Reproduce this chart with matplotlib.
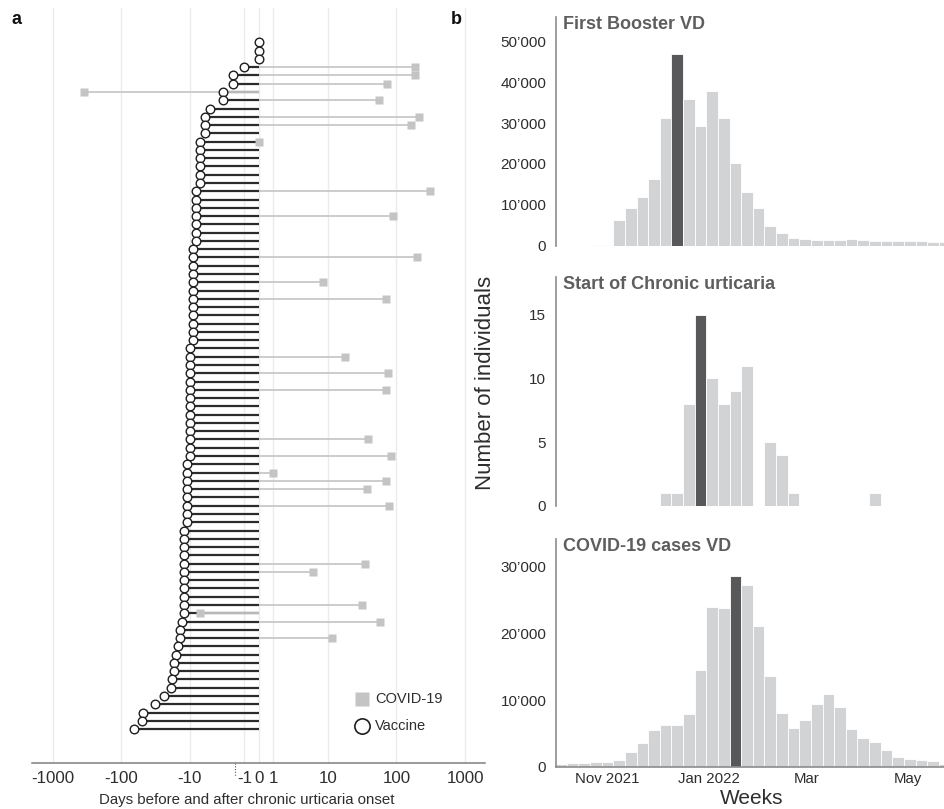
import matplotlib
matplotlib.use("Agg")
import matplotlib.pyplot as plt
import matplotlib.dates as mdates
import numpy as np
import pandas as pd

# ---- panel a: days from vaccine / COVID-19 to chronic urticaria onset ----
vaccine_days = [
    0, 0, 0, -1, -2, -2, -3, -3, -5, -6, -6, -6,
    -7, -7, -7, -7, -7, -7,
    -8, -8, -8, -8, -8, -8, -8,
    -9, -9, -9, -9, -9, -9, -9, -9, -9, -9, -9, -9,
    -10, -10, -10, -10, -10, -10, -10, -10, -10, -10, -10, -10, -10, -10,
    -11, -11, -11, -11, -11, -11, -11, -11,
    -12, -12, -12, -12, -12, -12, -12, -12, -12, -12, -12,
    -13, -14, -14, -15, -16, -17, -17, -18, -19, -24, -32, -49, -50, -65,
]
covid_rows = [4, 5, 6, 7, 8, 10, 11, 13, 19, 22, 27, 30, 32, 39, 41, 43,
              49, 51, 53, 54, 55, 57, 64, 65, 69, 70, 71, 73]
covid_days = [190, 190, 74, -350, 56, 216, 165, 0, 310, 88, 200, 8.5, 70, 18, 76, 70,
              39, 83, 1, 70, 37, 77, 35, 6, 32, -7, 57, 11.5]
x_ticks = [-1000, -100, -10, -1, 0, 1, 10, 100, 1000]
x_tick_labels = ["-1000", "-100", "-10", "-1", "0", "1", "10", "100", "1000"]

# ---- panel b: weekly counts ----
week_start = pd.date_range("2021-10-04", periods=34, freq="7D")
booster = [0, 0, 0, 100, 100, 6300, 9300, 11900, 16250, 31200, 47000, 35950,
           29330, 37750, 31300, 20260, 13240, 9150, 4820, 3190, 1880, 1550,
           1300, 1300, 1390, 1720, 1470, 1230, 1230, 1140, 1230, 1140, 980, 820]
cu_onset = [0, 0, 0, 0, 0, 0, 0, 0, 0, 1, 1, 8, 15, 10, 8, 9, 11, 0, 5, 4, 1,
            0, 0, 0, 0, 0, 0, 1, 0, 0, 0, 0, 0, 0]
covid_cases = [400, 550, 600, 650, 750, 950, 2150, 3600, 5450, 6300, 6300, 7900,
               14550, 24000, 23750, 28600, 27200, 21050, 13650, 8050, 5750, 6950,
               9450, 10950, 8900, 5650, 4300, 3700, 2500, 1500, 1200, 1050, 900, 450]
month_ticks = ["2021-11-01", "2022-01-01", "2022-03-01", "2022-05-01"]
month_labels = ["Nov 2021", "Jan 2022", "Mar", "May"]

W, H = 945, 809
plt.rcParams["font.family"] = ["Liberation Sans", "DejaVu Sans"]
plt.rcParams["axes.unicode_minus"] = False

LIGHT = "#d2d3d5"
DARK = "#58585a"
TXT = "#2e2e2e"


def box(left, top, right, bottom):
    return [left / W, 1 - bottom / H, (right - left) / W, (bottom - top) / H]


def fwd(x):
    return np.arcsinh(np.asarray(x, dtype=float) / 2) / np.log(10)


def inv(y):
    return 2 * np.sinh(np.asarray(y, dtype=float) * np.log(10))


fig = plt.figure(figsize=(W / 100, H / 100), dpi=100)

# ---------------- panel a ----------------
ax = fig.add_axes(box(32, 8, 485, 763))
ax.set_xscale("function", functions=(fwd, inv))
rows = np.arange(1, len(vaccine_days) + 1)
ax.hlines(rows, vaccine_days, 0, color="#2b2b2b", lw=1.6, zorder=2)
ax.hlines(covid_rows, covid_days, 0, color="#c8c8c8", lw=1.3, zorder=3)
ax.plot(covid_days, covid_rows, "s", color="#c4c4c4", ms=6, mec="none", zorder=4)
ax.plot(vaccine_days, rows, "o", mfc="white", mec="#1e1e1e", mew=1.0, ms=6.2, zorder=5)

ax.set_xlim(-1995, 1950)
ax.set_ylim(88.1, -3.15)
ax.set_xticks(x_ticks)
ax.set_xticklabels(x_tick_labels)
ax.set_yticks([])
ax.grid(axis="x", color="#ebebeb", lw=1)
ax.set_axisbelow(True)
for s in ["top", "right", "left"]:
    ax.spines[s].set_visible(False)
ax.spines["bottom"].set_color("#7f7f7f")
ax.spines["bottom"].set_linewidth(1.1)
ax.tick_params(axis="x", length=0, pad=6, labelsize=12.2, labelcolor=TXT)
ax.plot([-1.8, -1.8], [0, -0.017], transform=ax.get_xaxis_transform(),
        ls=(0, (1, 1.5)), color="#555555", lw=0.8, clip_on=False)

# legend
ax.plot([0.728], [0.0844], "s", transform=ax.transAxes, color="#c4c4c4",
        ms=10, mec="none", clip_on=False)
ax.text(0.757, 0.0844, "COVID-19", transform=ax.transAxes, va="center",
        fontsize=10.5, color=TXT)
ax.plot([0.728], [0.049], "o", transform=ax.transAxes, mfc="white", mec="#1e1e1e",
        mew=1.2, ms=11, clip_on=False)
ax.text(0.757, 0.049, "Vaccine", transform=ax.transAxes, va="center",
        fontsize=10.5, color=TXT)

fig.text(247 / W, 1 - 800 / H, "Days before and after chronic urticaria onset",
         ha="center", va="center", fontsize=10.8, color=TXT)

# ---------------- panel b ----------------
x = mdates.date2num(week_start)
nov1 = mdates.date2num(pd.Timestamp("2021-11-01"))


def hist_panel(rect, values, highlight, ymax, yticks, ylabels, title, show_x):
    a = fig.add_axes(rect)
    colors = [DARK if i == highlight else LIGHT for i in range(len(values))]
    a.bar(x, values, width=7, color=colors, edgecolor="white", linewidth=0.6,
          align="center")
    a.set_xlim(nov1 - 31.0, nov1 + 203.2)
    a.set_ylim(0, ymax)
    a.set_yticks(yticks)
    a.set_yticklabels(ylabels)
    for s in ["top", "right"]:
        a.spines[s].set_visible(False)
    a.spines["left"].set_color("#8c8c8c")
    a.spines["left"].set_linewidth(1.2)
    a.tick_params(axis="y", length=0, pad=7, labelsize=11, labelcolor=TXT)
    if show_x:
        a.spines["bottom"].set_color("#8c8c8c")
        a.spines["bottom"].set_linewidth(1.2)
        a.set_xticks(mdates.date2num(pd.to_datetime(month_ticks)))
        a.set_xticklabels(month_labels)
        a.tick_params(axis="x", length=0, pad=4, labelsize=10.8, labelcolor=TXT)
    else:
        a.spines["bottom"].set_visible(False)
        a.set_xticks([])
    a.text(0.017, 0.968, title, transform=a.transAxes, va="center", ha="left",
           fontsize=13, fontweight="bold", color="#5e5e5e")
    return a


hist_panel(box(556, 16.7, 945, 245.7), booster, 10, 56000,
           [0, 10000, 20000, 30000, 40000, 50000],
           ["0", "10\u2019000", "20\u2019000", "30\u2019000", "40\u2019000", "50\u2019000"],
           "First Booster VD", False)
hist_panel(box(556, 276.7, 945, 505.7), cu_onset, 12, 18,
           [0, 5, 10, 15], ["0", "5", "10", "15"],
           "Start of Chronic urticaria", False)
hist_panel(box(556, 539.3, 945, 766.7), covid_cases, 15, 34100,
           [0, 10000, 20000, 30000],
           ["0", "10\u2019000", "20\u2019000", "30\u2019000"],
           "COVID-19 cases VD", True)

fig.text(486 / W, 1 - 383 / H, "Number of individuals", rotation=90,
         ha="center", va="center", fontsize=16, color=TXT)
fig.text(752 / W, 1 - 798 / H, "Weeks", ha="center", va="center",
         fontsize=15, color=TXT)

fig.text(16.7 / W, 1 - 19 / H, "a", ha="center", va="center",
         fontsize=13, fontweight="bold", color="#111111")
fig.text(456 / W, 1 - 19 / H, "b", ha="center", va="center",
         fontsize=13, fontweight="bold", color="#111111")

fig.savefig("out.png", dpi=100)
